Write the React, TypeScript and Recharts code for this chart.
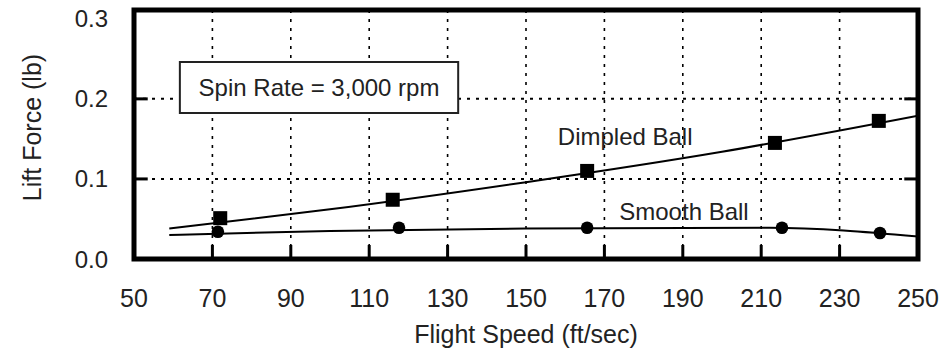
import React from "react"
import {
  ComposedChart,
  XAxis,
  YAxis,
  CartesianGrid,
  Line,
  Scatter,
  ReferenceArea,
  ReferenceDot,
  ReferenceLine,
} from "recharts"

// flight speed (ft/sec) ticks and lift force (lb) ticks
const speedTicks = [50, 70, 90, 110, 130, 150, 170, 190, 210, 230, 250]
const liftTicks = [0, 0.1, 0.2, 0.3]
const gridLiftTicks = [0, 0.1, 0.2]

// measured points
const dimpledPoints = [
  { x: 72, y: 0.051 },
  { x: 116, y: 0.074 },
  { x: 165.6, y: 0.11 },
  { x: 213.5, y: 0.145 },
  { x: 240, y: 0.1725 },
]
const smoothPoints = [
  { x: 71.4, y: 0.034 },
  { x: 117.6, y: 0.039 },
  { x: 165.6, y: 0.039 },
  { x: 215.3, y: 0.039 },
  { x: 240.3, y: 0.0325 },
]

// fitted curves
const dimpledFit = [
  { x: 59, y: 0.038 },
  { x: 100, y: 0.062 },
  { x: 150, y: 0.096 },
  { x: 200, y: 0.134 },
  { x: 250, y: 0.179 },
]
const smoothFit = [
  { x: 59, y: 0.03 },
  { x: 100, y: 0.035 },
  { x: 150, y: 0.038 },
  { x: 212, y: 0.039 },
  { x: 250, y: 0.028 },
]

const spinRateNote = "Spin Rate = 3,000 rpm"
const textColor = "#222"
const font = "'Liberation Sans', Arial, sans-serif"

// inner tick stubs, in axis units (about 14 px long)
const xStub = 0.0175
const yStub = 3.5
const innerSpeedTicks = speedTicks.slice(1, -1)
const innerLiftTicks = [0.1, 0.2]

const XTick = (props: any) => {
  const { x, y, payload } = props
  return (
    <text x={x} y={y + 48} textAnchor="middle" fontSize={25} fill={textColor} fontFamily={font}>
      {payload.value}
    </text>
  )
}

const YTick = (props: any) => {
  const { x, y, payload } = props
  return (
    <text x={x - 26} y={y + 8.5} textAnchor="end" fontSize={24} fill={textColor} fontFamily={font}>
      {payload.value.toFixed(1)}
    </text>
  )
}

const SquareDot = (props: any) => {
  const { cx, cy } = props
  return <rect x={cx - 7} y={cy - 7} width={14} height={14} fill="#000" />
}

const RoundDot = (props: any) => {
  const { cx, cy } = props
  return <circle cx={cx} cy={cy} r={6.3} fill="#000" />
}

const XTitle = (props: any) => {
  const { viewBox } = props
  return (
    <text
      x={viewBox.x + viewBox.width / 2}
      y={viewBox.y + 84}
      textAnchor="middle"
      fontSize={25}
      fill={textColor}
      fontFamily={font}
    >
      Flight Speed (ft/sec)
    </text>
  )
}

const YTitle = (props: any) => {
  const { viewBox } = props
  const x = viewBox.x + 41
  const y = viewBox.y + viewBox.height / 2 - 7
  return (
    <text
      x={x}
      y={y}
      transform={`rotate(-90 ${x} ${y})`}
      textAnchor="middle"
      fontSize={25}
      fill={textColor}
      fontFamily={font}
    >
      Lift Force (lb)
    </text>
  )
}

const App = () => {
  return (
    <div style={{ position: "absolute", left: 0, top: 0, fontFamily: font, background: "#fff" }}>
      <ComposedChart width={948} height={352} margin={{ top: 10, right: 30, bottom: 0, left: 0 }}>
        <CartesianGrid horizontal={false} stroke="#000" strokeWidth={1.6} strokeDasharray="3 6" />
        <CartesianGrid
          vertical={false}
          horizontalValues={gridLiftTicks}
          stroke="#000"
          strokeWidth={2}
          strokeDasharray="3 6"
        />
        <XAxis
          type="number"
          dataKey="x"
          domain={[50, 250]}
          ticks={speedTicks}
          height={93}
          tickSize={0}
          tickMargin={0}
          axisLine={false}
          tickLine={false}
          tick={XTick}
          allowDataOverflow
          label={<XTitle />}
        />
        <YAxis
          type="number"
          dataKey="y"
          domain={[0, 0.311]}
          ticks={liftTicks}
          width={134}
          tickSize={0}
          tickMargin={0}
          axisLine={false}
          tickLine={false}
          tick={YTick}
          allowDataOverflow
          label={<YTitle />}
        />
        {innerSpeedTicks.map((v) => (
          <ReferenceLine
            key={`xs${v}`}
            segment={[
              { x: v, y: 0 },
              { x: v, y: xStub },
            ]}
            stroke="#000"
            strokeWidth={3}
            ifOverflow="visible"
          />
        ))}
        {innerLiftTicks.map((v) => (
          <ReferenceLine
            key={`yl${v}`}
            segment={[
              { x: 50, y: v },
              { x: 50 + yStub, y: v },
            ]}
            stroke="#000"
            strokeWidth={3}
            ifOverflow="visible"
          />
        ))}
        {innerLiftTicks.map((v) => (
          <ReferenceLine
            key={`yr${v}`}
            segment={[
              { x: 250 - yStub, y: v },
              { x: 250, y: v },
            ]}
            stroke="#000"
            strokeWidth={3}
            ifOverflow="visible"
          />
        ))}
        <ReferenceArea
          x1={61.7}
          x2={132.7}
          y1={0.1825}
          y2={0.246}
          fill="#fff"
          fillOpacity={1}
          stroke={textColor}
          strokeWidth={2}
          ifOverflow="visible"
          label={{ value: spinRateNote, position: "center", fontSize: 24, fill: textColor }}
        />
        <Line
          data={dimpledFit}
          dataKey="y"
          type="monotone"
          stroke="#000"
          strokeWidth={2}
          dot={false}
          activeDot={false}
          isAnimationActive={false}
        />
        <Line
          data={smoothFit}
          dataKey="y"
          type="monotone"
          stroke="#000"
          strokeWidth={2}
          dot={false}
          activeDot={false}
          isAnimationActive={false}
        />
        <Scatter data={dimpledPoints} dataKey="y" shape={SquareDot} isAnimationActive={false} />
        <Scatter data={smoothPoints} dataKey="y" shape={RoundDot} isAnimationActive={false} />
        <ReferenceDot
          x={175.3}
          y={0.153}
          r={0}
          fill="none"
          stroke="none"
          ifOverflow="visible"
          label={{ value: "Dimpled Ball", position: "center", fontSize: 24, fill: textColor }}
        />
        <ReferenceDot
          x={190.3}
          y={0.0594}
          r={0}
          fill="none"
          stroke="none"
          ifOverflow="visible"
          label={{ value: "Smooth Ball", position: "center", fontSize: 24, fill: textColor }}
        />
        <ReferenceArea
          x1={50}
          x2={250}
          y1={0}
          y2={0.311}
          fill="none"
          stroke="#000"
          strokeWidth={5}
          ifOverflow="visible"
        />
      </ComposedChart>
    </div>
  )
}

export default App
